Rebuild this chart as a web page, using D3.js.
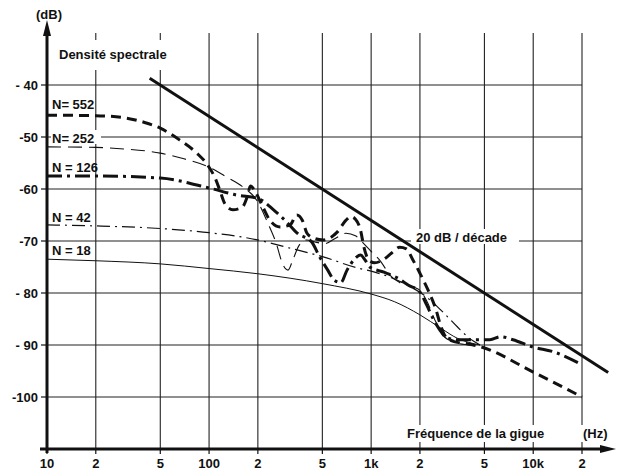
<!DOCTYPE html>
<html>
<head>
<meta charset="utf-8">
<script src="https://cdn.jsdelivr.net/npm/d3@7"></script>
<style>
  body { margin: 0; background: #fff; }
  text { font-family: "Liberation Sans", Arial, sans-serif; fill: #111; font-weight: bold; }
</style>
</head>
<body>
<div id="plot"></div>
<script>
// Axis ticks
const freqTicks = [10, 20, 50, 100, 200, 500, 1000, 2000, 5000, 10000, 20000];
const freqTickLabels = ["10", "2", "5", "100", "2", "5", "1k", "2", "5", "10k", "2"];
const dbTicks = [-40, -50, -60, -70, -80, -90, -100];
const dbTickLabels = ["- 40", "-50", "-60", "-70", "- 80", "- 90", "-100"];

// N = 552 (thick dashed)
const n552Freq = [10, 20, 30, 40, 50, 66, 84, 98, 109, 117, 125, 140, 160, 172, 180, 195, 215, 237, 274, 316, 348, 376, 402, 438, 505, 617, 700, 750, 800, 860, 900, 960, 1050, 1200, 1350, 1500, 1650, 1800, 2000, 2250, 2500, 2700, 2900, 3300, 4000, 4700, 10000, 20000];
const n552Db = [-45.8, -45.9, -46.3, -47.2, -48.3, -50.6, -53.1, -55.4, -57.9, -60.4, -62.8, -64.0, -63.5, -61.5, -59.4, -60.8, -63.5, -66, -67.3, -66.9, -65, -66, -68.5, -69.4, -69.8, -68.3, -66, -65.3, -65.8, -67.9, -71, -73.5, -74.2, -73.5, -72.2, -71.2, -71.5, -73.5, -76.2, -79.5, -83, -86.5, -88.5, -89.4, -89.8, -90.3, -95.2, -100];

// N = 252 (thin dashed)
const n252Freq = [10, 20, 30, 50, 70, 100, 130, 160, 200, 230, 260, 285, 307, 330, 360, 400, 450, 520, 600, 700, 800, 900, 1000, 1150, 1300, 1500, 1800, 2000, 2200, 2500, 2800, 3300, 4000, 4700];
const n252Db = [-51.9, -52, -52.3, -53.1, -54.2, -55.8, -57.8, -59.5, -62.5, -66.5, -70.5, -74.5, -75.6, -73.5, -70.8, -69.8, -70.2, -70.5, -69.5, -68.5, -69, -70.5, -72, -74, -76.5, -78, -78.8, -79.5, -81.5, -85.5, -88.3, -89.5, -90, -90.3];

// N = 126 (thick dash-dot)
const n126Freq = [10, 20, 50, 100, 150, 200, 250, 300, 350, 430, 480, 540, 590, 650, 710, 800, 860, 920, 980, 1200, 1450, 1700, 2000, 2200, 2400, 2650, 2900, 3400, 4200, 5400, 6300, 7500, 10000, 13300, 20000];
const n126Db = [-57.5, -57.5, -57.9, -59.8, -61.2, -61.8, -64, -66.3, -68.5, -70.2, -73, -75.6, -77.5, -78, -75.6, -73.3, -72.7, -73.7, -75, -76, -77.1, -78.5, -79.8, -82.3, -84.8, -87.1, -88.5, -89, -89, -89, -88.4, -89, -90.4, -91.3, -93.8];

// N = 42 (thin dash-dot)
const n42Freq = [10, 20, 50, 100, 200, 300, 500, 850, 1000, 1560, 2200, 2800, 3400, 4000, 4700];
const n42Db = [-66.9, -67.1, -67.6, -68.4, -69.8, -71.2, -73, -75.3, -75.8, -78, -80.8, -83.8, -86.5, -88.6, -90];

// N = 18 (thin solid)
const n18Freq = [10, 20, 50, 100, 200, 500, 1000, 1400, 2000, 2700, 3400, 4000, 4700];
const n18Db = [-73.5, -73.8, -74.4, -75.3, -76.3, -78.2, -80.2, -81.7, -84.2, -86.8, -88.7, -89.5, -90];

// 20 dB / décade reference line
const refFreq = [43, 29000];
const refDb = [-38.7, -95.3];

const W = 621, H = 471;
const x = d3.scaleLog().domain([10, 20000]).range([47, 582]);
const y = d3.scaleLinear().domain([-110, -30]).range([449, 33]);

const svg = d3.select("#plot").append("svg")
  .attr("width", W)
  .attr("height", H);

// grid
svg.append("g").selectAll("line")
  .data(freqTicks)
  .enter().append("line")
  .attr("x1", d => x(d)).attr("x2", d => x(d))
  .attr("y1", y(-30)).attr("y2", y(-110))
  .attr("stroke", "#222").attr("stroke-width", 1.1);

svg.append("g").selectAll("line")
  .data(dbTicks)
  .enter().append("line")
  .attr("x1", x(10)).attr("x2", x(20000))
  .attr("y1", d => y(d)).attr("y2", d => y(d))
  .attr("stroke", "#222").attr("stroke-width", 1.1);

// white boxes behind labels (hide grid)
const boxes = [
  [55, 40, 122, 30],
  [51, 130, 50, 14],
  [411, 229, 108, 15],
  [403, 425, 152, 17],
  [580, 425, 36, 17]
];
svg.append("g").selectAll("rect")
  .data(boxes)
  .enter().append("rect")
  .attr("x", d => d[0]).attr("y", d => d[1])
  .attr("width", d => d[2]).attr("height", d => d[3])
  .attr("fill", "#fff");

// curves
const line = d3.line()
  .x(d => x(d[0]))
  .y(d => y(d[1]))
  .curve(d3.curveMonotoneX);

const series = [
  { f: n18Freq, v: n18Db, w: 1, dash: null },
  { f: n42Freq, v: n42Db, w: 1.2, dash: "13,5,2,5" },
  { f: n252Freq, v: n252Db, w: 1.1, dash: "14,7" },
  { f: n126Freq, v: n126Db, w: 3, dash: "15,5,3,5" },
  { f: n552Freq, v: n552Db, w: 3, dash: "10,6" }
];

svg.append("g").selectAll("path")
  .data(series)
  .enter().append("path")
  .attr("d", d => line(d3.zip(d.f, d.v)))
  .attr("fill", "none")
  .attr("stroke", "#111")
  .attr("stroke-width", d => d.w)
  .attr("stroke-dasharray", d => d.dash);

svg.append("path")
  .attr("d", d3.line().x(d => x(d[0])).y(d => y(d[1]))(d3.zip(refFreq, refDb)))
  .attr("fill", "none")
  .attr("stroke", "#111")
  .attr("stroke-width", 3);

// axes
svg.append("line")
  .attr("x1", x(10)).attr("x2", x(10))
  .attr("y1", 453).attr("y2", 30)
  .attr("stroke", "#111").attr("stroke-width", 3);
svg.append("path")
  .attr("d", `M${x(10)},20 L${x(10) - 4},36 L${x(10) + 4},36 Z`)
  .attr("fill", "#111");

svg.append("line")
  .attr("x1", 40).attr("x2", 606)
  .attr("y1", y(-110)).attr("y2", y(-110))
  .attr("stroke", "#111").attr("stroke-width", 3);
svg.append("path")
  .attr("d", `M616,${y(-110)} L600,${y(-110) - 4} L600,${y(-110) + 4} Z`)
  .attr("fill", "#111");

// ticks
svg.append("g").selectAll("line")
  .data(dbTicks)
  .enter().append("line")
  .attr("x1", x(10) - 6).attr("x2", x(10))
  .attr("y1", d => y(d)).attr("y2", d => y(d))
  .attr("stroke", "#111").attr("stroke-width", 1.2);

svg.append("g").selectAll("line")
  .data(freqTicks)
  .enter().append("line")
  .attr("x1", d => x(d)).attr("x2", d => x(d))
  .attr("y1", y(-110)).attr("y2", y(-110) + 5)
  .attr("stroke", "#111").attr("stroke-width", 1.2);

// tick labels
svg.append("g").selectAll("text")
  .data(dbTicks)
  .enter().append("text")
  .attr("x", 38)
  .attr("y", d => y(d) + 5)
  .attr("text-anchor", "end")
  .style("font-size", "13px")
  .text((d, i) => dbTickLabels[i]);

svg.append("g").selectAll("text")
  .data(freqTicks)
  .enter().append("text")
  .attr("x", d => x(d))
  .attr("y", 468)
  .attr("text-anchor", "middle")
  .style("font-size", "13px")
  .text((d, i) => freqTickLabels[i]);

// labels
const labels = [
  ["(dB)", 36, 19],
  ["Densité spectrale", 59, 59],
  ["N= 552", 52, 109],
  ["N= 252", 52, 143],
  ["N = 126", 52, 172],
  ["N = 42", 52, 222],
  ["N = 18", 52, 255],
  ["20 dB / décade", 416, 242],
  ["Fréquence de la gigue", 407, 438],
  ["(Hz)", 583, 438]
];
svg.append("g").selectAll("text")
  .data(labels)
  .enter().append("text")
  .attr("x", d => d[1])
  .attr("y", d => d[2])
  .style("font-size", "13px")
  .text(d => d[0]);
</script>
</body>
</html>
